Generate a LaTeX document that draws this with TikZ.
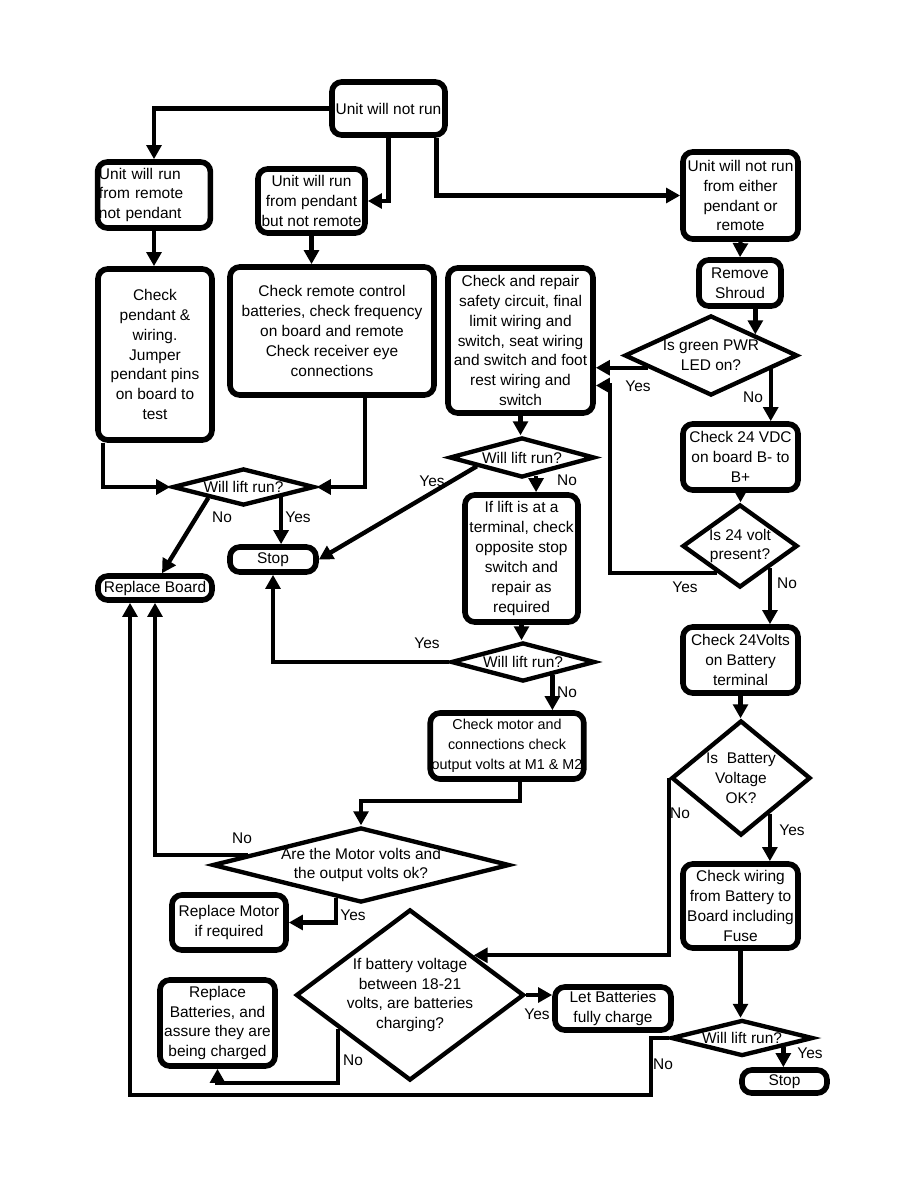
\documentclass[tikz,border=0pt]{standalone}
\usepackage{fontspec}
\setmainfont{Liberation Sans}
\usepackage{tikz}
\usetikzlibrary{arrows.meta, positioning, calc, shapes.geometric}

\newcommand{\flowfont}{\fontsize{11}{14.2}\selectfont}

\begin{document}
\begin{tikzpicture}[x=0.025cm, y=-0.025cm,
  box/.style={draw, line width=4pt, rounded corners=7pt, align=center, inner sep=1pt, font=\flowfont},
  dia/.style={draw, diamond, line width=3.1pt, inner sep=0pt},
  dtxt/.style={font=\flowfont, align=center},
  flow/.style={line width=3.1pt, -{Triangle[length=10pt, width=10.5pt]}},
  ans/.style={font=\flowfont}]
\path[use as bounding box, fill=white] (0,0) rectangle (918,1188);
% Top row
\node[box, minimum width=2.825cm, minimum height=1.325cm] (start) at (388.5,108.5) {Unit will not run};
\node[box, text width=2.75cm, align=left, minimum height=1.65cm] (fromremote) at (154,195) {Unit will run\\from remote\\not pendant};
\node[box, minimum width=2.675cm, minimum height=1.6cm] (frompendant) at (311.5,201) {Unit will run\\from pendant\\but not remote};
\node[box, minimum width=2.875cm, minimum height=2.175cm] (fromneither) at (740.5,195.5) {Unit will not run\\from either\\pendant or\\remote};
\node[box, minimum width=2.05cm, minimum height=1.15cm] (shroud) at (740,283) {Remove\\Shroud};
% Left column
\node[box, minimum width=2.85cm, minimum height=4.275cm] (pendant) at (155,354.5) {Check\\pendant \&\\wiring.\\Jumper\\pendant pins\\on board to\\test};
\node[box, minimum width=5.1cm, minimum height=3.2cm] (remote) at (332,331) {Check remote control\\batteries, check frequency\\on board and remote\\Check receiver eye\\connections};
\node[dia, minimum width=3.55cm, minimum height=0.925cm, label={[dtxt]center:{Will lift run?}}] (run1) at (243.5,487) {};
\node[box, minimum width=2.15cm, minimum height=0.625cm] (stopmid) at (273,559.5) {Stop};
\node[box, minimum width=2.85cm, minimum height=0.6cm] (board) at (155,588) {Replace Board};
% Middle column
\node[box, minimum width=3.625cm, minimum height=3.625cm] (safety) at (520.5,340.5) {Check and repair\\safety circuit, final\\limit wiring and\\switch, seat wiring\\and switch and foot\\rest wiring and\\switch};
\node[dia, minimum width=3.625cm, minimum height=1.0cm, label={[dtxt]center:{Will lift run?}}] (run2) at (522,457.5) {};
\node[box, minimum width=2.825cm, minimum height=3.175cm] (terminal) at (521.5,558.5) {If lift is at a\\terminal, check\\opposite stop\\switch and\\repair as\\required};
\node[dia, minimum width=3.6cm, minimum height=0.975cm, label={[dtxt]center:{Will lift run?}}] (run3) at (523,662) {};
\node[box, minimum width=3.65cm, minimum height=1.65cm, font=\fontsize{10.2}{14.2}\selectfont] (motor) at (507,746) {Check motor and\\connections check\\output volts at M1 \& M2};
% Right column
\node[dia, minimum width=4.325cm, minimum height=2cm, label={[dtxt]center:{Is green PWR\\LED on?}}] (led) at (711,355.5) {};
\node[box, minimum width=2.875cm, minimum height=1.65cm] (vdc) at (740.5,457) {Check 24 VDC\\on board B- to\\B+};
\node[dia, minimum width=2.875cm, minimum height=2.075cm, label={[dtxt]center:{Is 24 volt\\present?}}] (volt24) at (740,546) {};
\node[box, minimum width=2.875cm, minimum height=1.65cm] (battery) at (740.5,660) {Check 24Volts\\on Battery\\terminal};
\node[dia, minimum width=3.475cm, minimum height=2.875cm, label={[dtxt]center:{Is~~Battery\\Voltage\\OK?}}] (battok) at (741,778) {};
\node[box, minimum width=2.875cm, minimum height=2.1cm] (wiring) at (740.5,906) {Check wiring\\from Battery to\\Board including\\Fuse};
\node[dia, minimum width=3.55cm, minimum height=0.9cm, label={[dtxt]center:{Will lift run?}}] (run4) at (742,1038) {};
\node[box, minimum width=2.125cm, minimum height=0.575cm] (stopend) at (784.5,1081.5) {Stop};
% Bottom part
\node[dia, minimum width=7.425cm, minimum height=1.875cm, label={[dtxt]center:{Are the Motor volts and\\the output volts ok?}}] (motorok) at (361,865) {};
\node[box, minimum width=2.85cm, minimum height=1.375cm] (newmotor) at (229,922.5) {Replace Motor\\if required};
\node[dia, minimum width=5.7cm, minimum height=4.275cm, label={[dtxt]center:{If battery voltage\\between 18-21\\volts, are batteries\\charging?}}] (charging) at (410,995) {};
\node[box, minimum width=2.875cm, minimum height=2.15cm] (newbatt) at (217.5,1023) {Replace\\Batteries, and\\assure they are\\being charged};
\node[box, minimum width=2.9cm, minimum height=1.075cm] (letcharge) at (613,1008.5) {Let Batteries\\fully charge};
\coordinate (rail) at (130,1095);
% Start branches
\draw[flow] (start.west) -| (fromremote.north);
\draw[flow] (start.south) |- (frompendant.east);
\draw[flow] ($(start.south)+(48,0)$) |- (fromneither.west);
\draw[flow] (fromremote.south) -- (fromremote.south |- pendant.north);
\draw[flow] (frompendant.south) -- (frompendant.south |- remote.north);
\draw[flow] (fromneither.south) -- (shroud.north);
\draw[flow] (shroud.south -| led.north east) -- (led.north east);
% Left column
\draw[flow] ($(pendant.south)+(-52,0)$) |- (run1.west);
\draw[flow] ($(remote.south)+(33,0)$) |- (run1.east);
\draw[flow] (run1.197) -- ($(board.north)+(7,0)$);
\draw[flow] (run1.-15) -- (run1.-15 |- stopmid.north);
% Middle column
\draw[flow] (safety.south) -- (safety.south |- run2.north);
\draw[flow] (run2.191) -- (stopmid.east);
\draw[flow] (run2.-52) -- (run2.-52 |- terminal.north);
\draw[flow] (terminal.south) -- (terminal.south |- run3.north);
\draw[flow] (run3.west) -| (stopmid.south);
\draw[flow] (run3.-24) -- (run3.-24 |- motor.north);
\draw[flow] ($(motor.south)+(13,0)$) |- ($(motorok.north)+(0,-24)$) -- (motorok.north);
\draw[flow] (motorok.175) -| (board.south);
\draw[flow] (motorok.233) |- (newmotor.east);
% Right column
\draw[flow] (led.191) -- (led.191 -| safety.east);
\draw[flow] (led.-13) -- (led.-13 |- vdc.north);
\draw[flow] (vdc.south) -- (vdc.south |- volt24.north);
\draw[flow] (volt24.-36) -- (volt24.-36 |- battery.north);
\draw[flow] (volt24.230) -| ($(safety.east)+(14,45)$) -- ($(safety.east)+(0,45)$);
\draw[flow] (battery.south) -- (battery.south |- battok.north);
\draw[flow] (battok.-51) -- (battok.-51 |- wiring.north);
\draw[flow] (battok.west) |- (charging.32);
\draw[flow] (wiring.south) -- (wiring.south |- run4.north);
\draw[flow] (run4.-12) -- (run4.-12 |- stopend.north);
% Bottom part
\draw[flow] (charging.east) -- (charging.east -| letcharge.west);
\draw[flow] (charging.205) |- ($(newbatt.south)+(0,14)$) -- (newbatt.south);
\draw[flow] (run4.west) -- ++(-18,0) |- (rail) -- (rail |- board.south);
% Answers
\foreach \nm/\x/\y/\t in {yesa/298/517/Yes, noa/222/517/No, yesb/432/481/Yes, nob/567/480/No,
    yesc/427/643/Yes, noc/567/692/No, nod/242/838/No, yesd/353/915/Yes,
    noe/353/1060/No, yese/537/1014/Yes, yesf/638/386/Yes, nof/753/397/No,
    yesg/685/587/Yes, nog/787/583/No, noh/680/813/No, yesh/792/830/Yes,
    noi/663/1064/No, yesi/810/1053/Yes}
  \node[ans] (\nm) at (\x,\y) {\t};
\end{tikzpicture}
\end{document}
